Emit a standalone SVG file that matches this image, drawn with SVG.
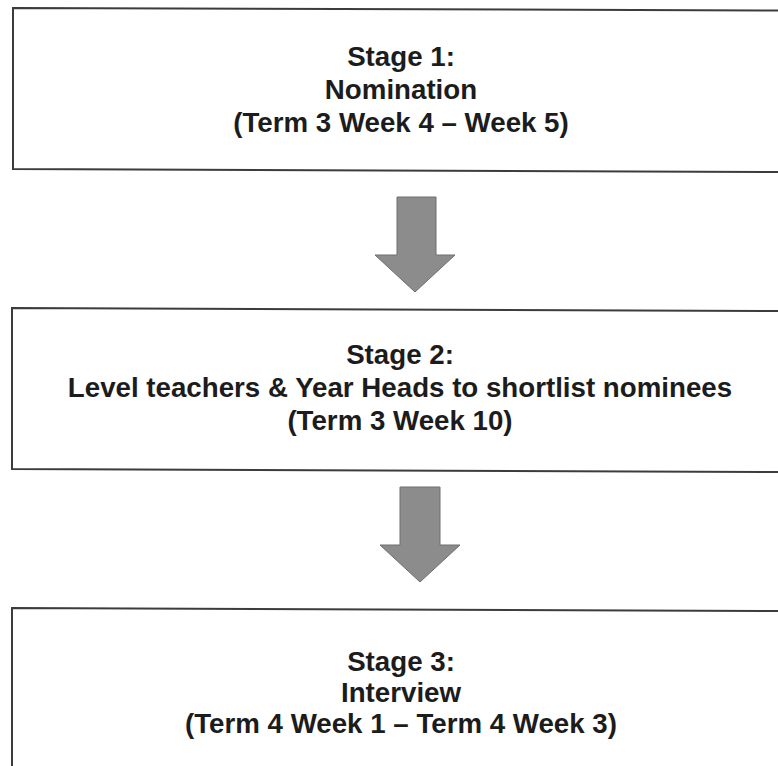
<svg xmlns="http://www.w3.org/2000/svg" width="778" height="766" viewBox="0 0 778 766">
<style>
.box{fill:#ffffff;stroke:#3c3c3c;stroke-width:2}
.lbl{font-family:"Liberation Sans",Arial,sans-serif;font-weight:bold;font-size:27.7px;fill:#1c1c1c;text-anchor:middle}
.arr{fill:#8c8c8c;stroke:#6e6e6e;stroke-width:1}
</style>
<rect x="0" y="0" width="778" height="766" fill="#ffffff"/>
<g id="stage1">
<path class="box" d="M13,8 L790,10.5 L790,172 L13,169 Z"/>
<text class="lbl" x="401" y="66">Stage 1:</text>
<text class="lbl" x="401" y="99">Nomination</text>
<text class="lbl" x="401" y="132">(Term 3 Week 4 – Week 5)</text>
</g>
<g id="stage2">
<path class="box" d="M12,308 L790,311 L790,472 L12,469 Z"/>
<text class="lbl" x="400" y="364">Stage 2:</text>
<text class="lbl" x="400" y="397">Level teachers &amp; Year Heads to shortlist nominees</text>
<text class="lbl" x="400" y="430">(Term 3 Week 10)</text>
</g>
<g id="stage3">
<path class="box" d="M12,608 L790,611 L790,780 L12,780 Z"/>
<text class="lbl" x="401" y="671">Stage 3:</text>
<text class="lbl" x="401" y="702">Interview</text>
<text class="lbl" x="401" y="733">(Term 4 Week 1 – Term 4 Week 3)</text>
</g>
<g id="connectors">
<path class="arr" d="M397,197 L436,197 L436,255 L455,255 L415,292 L375,255 L397,255 Z"/>
<path class="arr" d="M400,487 L440,487 L440,545 L460,545 L420,582 L380,545 L400,545 Z"/>
</g>
</svg>
